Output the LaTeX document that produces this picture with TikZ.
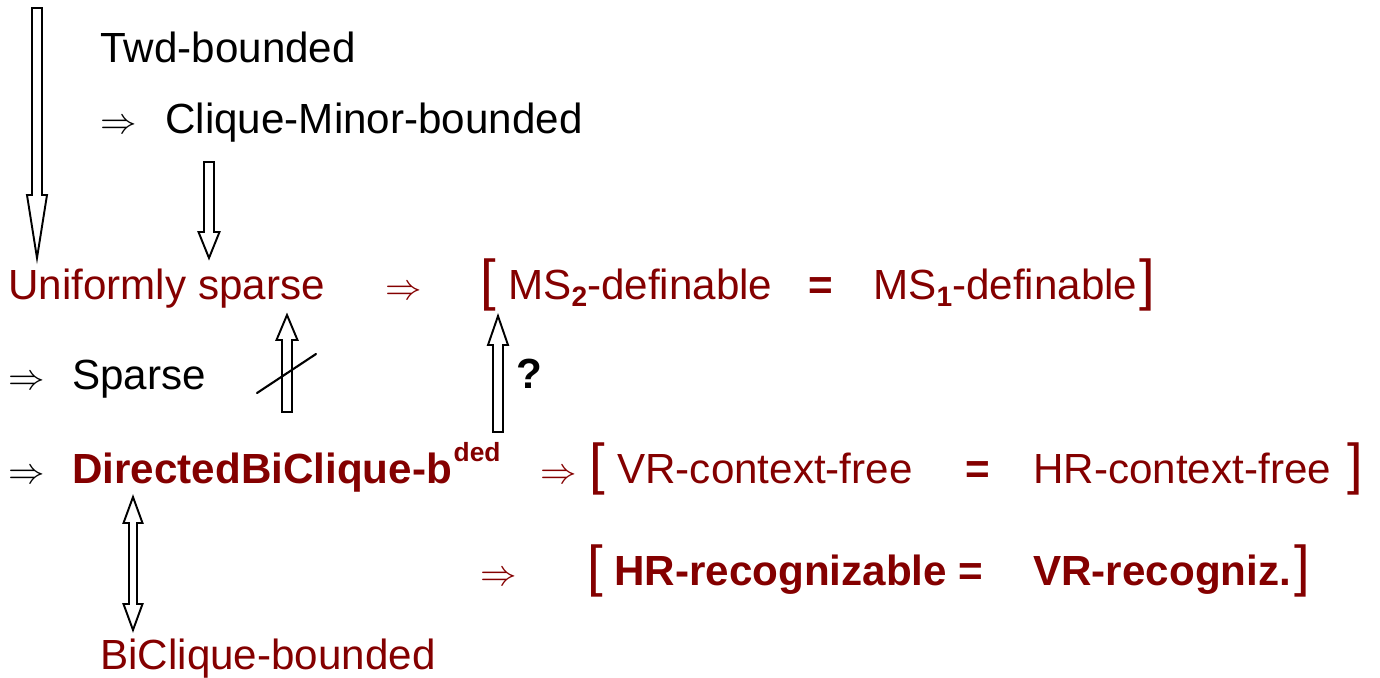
\documentclass[tikz,border=0pt]{standalone}
\usepackage{fontspec}
\setmainfont{Liberation Sans}
\usetikzlibrary{calc}
\definecolor{darkred}{RGB}{132,0,0}

% hollow block arrow: tail, tip, half shaft, half head, head length
\newcommand{\hollowarrow}[5]{%
  \coordinate (hb) at ($(#2)!#5!(#1)$);
  \draw[blockarrow] ($(#1)!#3!90:(#2)$) -- ($(hb)!#3!90:(#2)$) -- ($(hb)!#4!90:(#2)$) -- (#2)
    -- ($(hb)!#4!-90:(#2)$) -- ($(hb)!#3!-90:(#2)$) -- ($(#1)!#3!-90:(#2)$) -- cycle;}
% same, with a head at both ends
\newcommand{\hollowdblarrow}[5]{%
  \coordinate (ha) at ($(#1)!#5!(#2)$);
  \coordinate (hb) at ($(#2)!#5!(#1)$);
  \draw[blockarrow] (#1) -- ($(ha)!#4!90:(#2)$) -- ($(ha)!#3!90:(#2)$) -- ($(hb)!#3!90:(#2)$)
    -- ($(hb)!#4!90:(#2)$) -- (#2) -- ($(hb)!#4!-90:(#2)$) -- ($(hb)!#3!-90:(#2)$)
    -- ($(ha)!#3!-90:(#2)$) -- ($(ha)!#4!-90:(#2)$) -- cycle;}

\tikzset{
  lbl/.style={anchor=base west,inner sep=0pt,font=\fontsize{24}{28}\selectfont},
  dred/.style={lbl,text=darkred},
  bred/.style={dred,font=\fontsize{24}{28}\selectfont\bfseries},
  brk/.style={dred,font=\fontsize{32}{36}\selectfont},
  imp/.style={anchor=base west,inner sep=0pt,font=\fontsize{21}{24}\selectfont},
  blockarrow/.style={draw=black,fill=white,line width=1.1pt,line join=miter},
}
\newcommand{\sub}[1]{\raisebox{-4pt}{\fontsize{16}{16}\selectfont\bfseries #1}}

\begin{document}
\begin{tikzpicture}[x=0.02cm,y=-0.02cm,line cap=round]
  \useasboundingbox (0,0) rectangle (1380,677);
  % upper part
  \node[lbl] (twd) at (100,62) {Twd-bounded};
  \node[imp] (imp1) at (100,133) {$\Rightarrow$};
  \node[lbl] (cmb) at (165,133) {Clique-Minor-bounded};
  % row: uniformly sparse
  \node[dred] (unif) at (8,299) {Uniformly sparse};
  \node[imp,text=darkred] (imp2) at (385,299) {$\Rightarrow$};
  \node[brk] (lb1) at (480,299) {[};
  \node[dred] (ms2) at (508,299) {MS\sub{2}-definable};
  \node[bred] (eq1) at (808,299) {=};
  \node[dred] (ms1) at (873,299) {MS\sub{1}-definable};
  \node[brk] (rb1) at (1139,299) {]};
  % row: sparse
  \node[imp] (imp3) at (8,389) {$\Rightarrow$};
  \node[lbl] (sparse) at (72,389) {Sparse};
  \node[lbl,font=\fontsize{24}{28}\selectfont\bfseries] (qm) at (516,388) {?};
  % row: directed biclique
  \node[imp] (imp4) at (8,483) {$\Rightarrow$};
  \node[bred] (dbc) at (72,483) {DirectedBiClique-b\kern1pt\raisebox{12pt}{\fontsize{15}{15}\selectfont ded}};
  \node[imp,text=darkred] (imp5) at (540,483) {$\Rightarrow$};
  \node[brk] (lb2) at (589,483) {[};
  \node[dred] (vrcf) at (617,483) {VR-context-free};
  \node[bred] (eq2) at (965,483) {=};
  \node[dred] (hrcf) at (1033,483) {HR-context-free};
  \node[brk] (rb2) at (1347,483) {]};
  % row: recognizable
  \node[imp,text=darkred] (imp6) at (480,585) {$\Rightarrow$};
  \node[brk] (lb3) at (587,585) {[};
  \node[bred] (hrrec) at (614,585) {HR-recognizable =};
  \node[bred] (vrrec) at (1033,585) {VR-recogniz.};
  \node[brk] (rb3) at (1294,585) {]};
  \node[dred] (bcb) at (100,669) {BiClique-bounded};
  % block arrows
  \coordinate (a1) at (37,8);    \coordinate (a1t) at (37,258);
  \coordinate (a2) at (209,162); \coordinate (a2t) at (209,258);
  \coordinate (a3) at (287,412); \coordinate (a3t) at (287,315);
  \coordinate (a4) at (498,432); \coordinate (a4t) at (498,316);
  \coordinate (a5) at (133,497); \coordinate (a5t) at (133,630);
  \hollowarrow{a1}{a1t}{0.1cm}{0.2cm}{1.26cm}
  \hollowarrow{a2}{a2t}{0.1cm}{0.21cm}{0.52cm}
  \hollowarrow{a3}{a3t}{0.1cm}{0.21cm}{0.5cm}
  \hollowarrow{a4}{a4t}{0.1cm}{0.2cm}{0.58cm}
  \hollowdblarrow{a5}{a5t}{0.08cm}{0.19cm}{0.52cm}
  % crossing stroke
  \coordinate (x1) at (257,393); \coordinate (x2) at (316,354);
  \draw[line width=1.2pt] (x1) -- (x2);
\end{tikzpicture}
\end{document}
